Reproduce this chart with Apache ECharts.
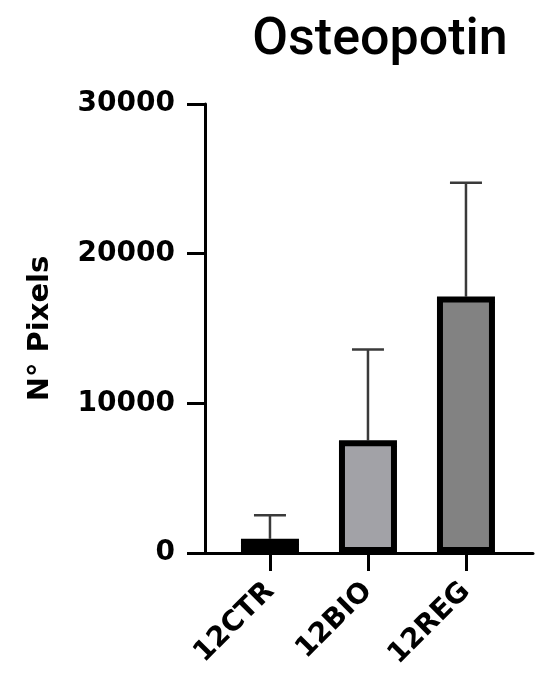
<!DOCTYPE html>
<html><head><meta charset="utf-8">
<script src="https://cdn.jsdelivr.net/npm/echarts@6/dist/echarts.min.js"></script>
<style>html,body{margin:0;padding:0;background:#fff}#c{width:550px;height:699px}</style>
</head><body><div id="c"></div>
<script>
const categories = ['12CTR', '12BIO', '12REG'];
const means = [950, 7530, 17130];
const sds = [1580, 6070, 7600];
const colors = ['#000000', '#a2a2a7', '#828282'];
const yTicks = [0, 10000, 20000, 30000];

const chart = echarts.init(document.getElementById('c'));
const barData = means.map((v, i) => ({ value: [i, v], itemStyle: { color: colors[i] } }));
const errData = means.map((v, i) => [i, v, v + sds[i]]);

chart.setOption({
  animation: false,
  title: {
    text: 'Osteopotin', left: 375, top: 10, textAlign: 'center',
    textStyle: { fontFamily: 'Roboto', fontWeight: 500, fontSize: 52, color: '#000' }
  },
  grid: { left: 205, right: 17, top: 104, bottom: 146 },
  xAxis: {
    type: 'value', min: -0.663, max: 2.684,
    splitLine: { show: false },
    axisLine: { show: true, onZero: false, lineStyle: { color: '#000', width: 3 } },
    axisTick: { show: true, customValues: [0, 1, 2], length: 18, lineStyle: { color: '#000', width: 3 } },
    axisLabel: {
      customValues: [0, 1, 2], rotate: 45, margin: 34,
      formatter: v => categories[Math.round(v)] || '',
      fontFamily: 'DejaVu Sans', fontWeight: 'bold', fontSize: 28, color: '#000'
    }
  },
  yAxis: {
    type: 'value', min: 0, max: 30000, interval: 10000,
    name: 'N° Pixels', nameLocation: 'middle', nameRotate: 90, nameGap: 150,
    nameTextStyle: { fontFamily: 'DejaVu Sans', fontWeight: 'bold', fontSize: 29, color: '#000' },
    splitLine: { show: false },
    axisLine: { show: true, onZero: false, lineStyle: { color: '#000', width: 3 } },
    axisTick: { show: true, length: 18, lineStyle: { color: '#000', width: 3 } },
    axisLabel: { margin: 30, fontFamily: 'DejaVu Sans', fontWeight: 'bold', fontSize: 28, color: '#000',
      formatter: v => yTicks.includes(v) ? String(v) : '' }
  },
  series: [
    {
      type: 'custom', z: 1,
      renderItem: (params, api) => {
        const x = api.value(0);
        const p0 = api.coord([x, api.value(1)]);
        const p1 = api.coord([x, api.value(2)]);
        const half = 16;
        const st = { stroke: '#3a3a3a', lineWidth: 2.5 };
        return { type: 'group', children: [
          { type: 'line', shape: { x1: p0[0], y1: p0[1], x2: p1[0], y2: p1[1] }, style: st },
          { type: 'line', shape: { x1: p1[0] - half, y1: p1[1], x2: p1[0] + half, y2: p1[1] }, style: st }
        ]};
      },
      data: errData
    },
    {
      type: 'bar', z: 2, barWidth: 58,
      itemStyle: { borderColor: '#000', borderWidth: 6 },
      data: barData
    }
  ]
});
</script></body></html>
